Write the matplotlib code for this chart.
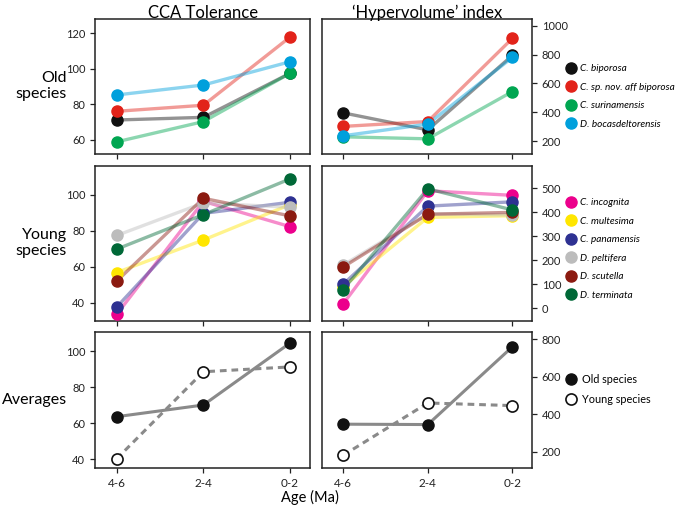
import matplotlib
matplotlib.use('Agg')
import matplotlib.pyplot as plt
from matplotlib.lines import Line2D

plt.rcParams['font.family'] = ['Lato', 'DejaVu Sans']

ages = ['4-6', '2-4', '0-2']

old_species = ['C. biporosa', 'C. sp. nov. aff biporosa', 'C. surinamensis', 'D. bocasdeltorensis']
old_colors = ['#111111', '#e2231a', '#00a651', '#00a0dc']
old_cca = [
    [71.2, 72.7, 97.5],
    [76.1, 79.5, 117.9],
    [58.9, 70.3, 97.5],
    [85.3, 90.9, 104.0],
]
old_hyper = [
    [396, 278, 795],
    [302, 336, 913],
    [230, 216, 544],
    [237, 318, 781],
]

young_species = ['C. incognita', 'C. multesima', 'C. panamensis', 'D. peltifera', 'D. scutella', 'D. terminata']
young_colors = ['#ec008c', '#ffe600', '#2e3192', '#bcbcbc', '#8b1a10', '#006837']
young_cca = [
    [33.5, 96.4, 82.3],
    [56.8, 74.9, 94.6],
    [37.6, 89.7, 95.9],
    [77.4, 95.5, 93.1],
    [52.0, 98.1, 88.3],
    [69.8, 89.0, 108.9],
]
young_hyper = [
    [18, 490, 471],
    [90, 379, 386],
    [100, 426, 444],
    [180, 394, 389],
    [172, 392, 400],
    [78, 498, 410],
]

avg_cca_old = [63.7, 70.2, 104.7]
avg_cca_young = [40.3, 88.7, 91.4]
avg_hyper_old = [348, 346, 761]
avg_hyper_young = [182, 461, 447]

x = range(len(ages))

fig = plt.figure(figsize=(6.85, 5.12), dpi=100)

# axes positions (fractions of figure)
cols = [(0.1387, 0.3139), (0.470, 0.3066)]
rows = [(0.699, 0.2637), (0.3736, 0.302), (0.0854, 0.2668)]

axes = [[fig.add_axes([c[0], r[0], c[1], r[1]]) for c in cols] for r in rows]


def style(ax, right=False, bottom_labels=False):
    for s in ax.spines.values():
        s.set_linewidth(1.1)
        s.set_color('#222222')
    ax.set_xlim(-0.25, 2.23)
    ax.set_xticks(list(x))
    ax.tick_params(axis='both', direction='out', length=3.5, width=0.9,
                   labelsize=8, colors='#222222')
    if bottom_labels:
        ax.set_xticklabels(ages, fontsize=8.5)
    else:
        ax.set_xticklabels([])
    if right:
        ax.yaxis.tick_right()
        ax.yaxis.set_label_position('right')


def species_panel(ax, data, colors):
    for vals, c in zip(data, colors):
        ax.plot(x, vals, '-', color=c, lw=2.4, alpha=0.45, zorder=2)
        ax.plot(x, vals, 'o', color=c, ms=8, zorder=3)


# top row
species_panel(axes[0][0], old_cca, old_colors)
axes[0][0].set_ylim(52, 128)
axes[0][0].set_yticks([60, 80, 100, 120])
style(axes[0][0])

species_panel(axes[0][1], old_hyper, old_colors)
axes[0][1].set_ylim(110, 1046)
axes[0][1].set_yticks([200, 400, 600, 800, 1000])
style(axes[0][1], right=True)

# middle row
species_panel(axes[1][0], young_cca, young_colors)
axes[1][0].set_ylim(30, 116)
axes[1][0].set_yticks([40, 60, 80, 100])
style(axes[1][0])

species_panel(axes[1][1], young_hyper, young_colors)
axes[1][1].set_ylim(-52, 593)
axes[1][1].set_yticks([0, 100, 200, 300, 400, 500])
style(axes[1][1], right=True)

# bottom row: averages
for ax, old, young in [(axes[2][0], avg_cca_old, avg_cca_young),
                       (axes[2][1], avg_hyper_old, avg_hyper_young)]:
    ax.plot(x, old, '-', color='#8a8a8a', lw=2.2, zorder=2)
    ax.plot(x, young, '--', color='#8a8a8a', lw=2.2, dashes=(2.2, 1.6), zorder=2)
    ax.plot(x, old, 'o', mfc='#111111', mec='#111111', ms=8, zorder=3)
    ax.plot(x, young, 'o', mfc='white', mec='#111111', mew=1.2, ms=8, zorder=3)

axes[2][0].set_ylim(35, 111)
axes[2][0].set_yticks([40, 60, 80, 100])
style(axes[2][0], bottom_labels=True)

axes[2][1].set_ylim(113, 841)
axes[2][1].set_yticks([200, 400, 600, 800])
style(axes[2][1], right=True, bottom_labels=True)

# titles and row labels
fig.text(0.296, 0.99, 'CCA Tolerance', ha='center', va='top', fontsize=12)
fig.text(0.623, 0.99, '\u2018Hypervolume\u2019 index', ha='center', va='top', fontsize=12)
fig.text(0.098, 0.832, 'Old\nspecies', ha='right', va='center', fontsize=11.5, linespacing=1.2)
fig.text(0.098, 0.525, 'Young\nspecies', ha='right', va='center', fontsize=11.5, linespacing=1.2)
fig.text(0.098, 0.219, 'Averages', ha='right', va='center', fontsize=11.5)
fig.text(0.453, 0.028, 'Age (Ma)', ha='center', va='center', fontsize=10.5)

# legends
def handles(colors):
    return [Line2D([], [], ls='none', marker='o', color=c, ms=8) for c in colors]

leg_kw = dict(frameon=False, loc='center left', handletextpad=0.45, handlelength=1.0,
              labelspacing=0.95, borderaxespad=0, borderpad=0,
              prop={'size': 7.2, 'style': 'italic'})
fig.legend(handles(old_colors), old_species, bbox_to_anchor=(0.826, 0.8115), **leg_kw)
fig.legend(handles(young_colors), young_species, bbox_to_anchor=(0.826, 0.5137), **leg_kw)

avg_handles = [Line2D([], [], ls='none', marker='o', mfc='#111111', mec='#111111', ms=8),
               Line2D([], [], ls='none', marker='o', mfc='white', mec='#111111', mew=1.2, ms=8)]
leg_kw['prop'] = {'size': 7.8}
leg_kw['labelspacing'] = 0.8
fig.legend(avg_handles, ['Old species', 'Young species'], bbox_to_anchor=(0.826, 0.2393), **leg_kw)

fig.savefig('out.png', dpi=100)
